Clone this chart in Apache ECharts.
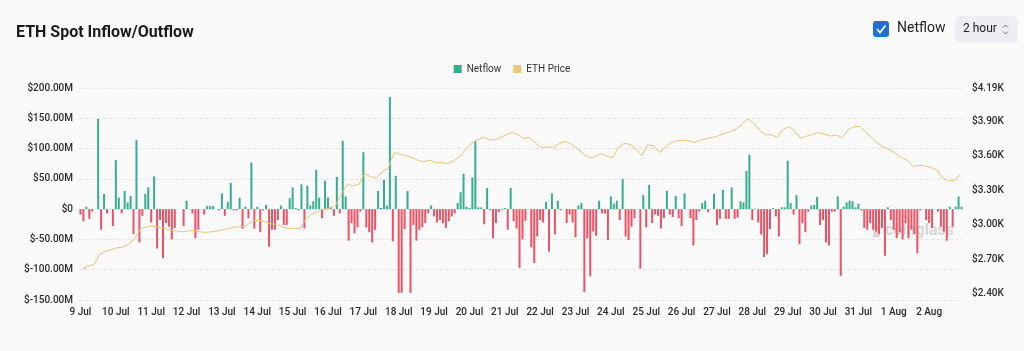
<!DOCTYPE html>
<html>
<head>
<meta charset="utf-8">
<script src="https://cdn.jsdelivr.net/npm/echarts@6/dist/echarts.min.js"></script>
<style>
html, body { margin: 0; padding: 0; background: #fafafa; }
#main { width: 1024px; height: 351px; }
</style>
</head>
<body>
<div id="main"></div>
<script>
// day labels, one per 12 two-hour slots
var dayLabels = ['9 Jul', '10 Jul', '11 Jul', '12 Jul', '13 Jul', '14 Jul', '15 Jul', '16 Jul', '17 Jul',
	'18 Jul', '19 Jul', '20 Jul', '21 Jul', '22 Jul', '23 Jul', '24 Jul', '25 Jul', '26 Jul', '27 Jul',
	'28 Jul', '29 Jul', '30 Jul', '31 Jul', '1 Aug', '2 Aug'];

// netflow per 2 hour slot, in $M
var netflow = [
	-9, -20, 4, -16, -4, 0, 149, -34, 25, -7, 0, -28,
	81, 19, -7, 30, 11, 22, -41, 114, -55, -11, 25, 36,
	-22, 54, -65, -18, -81, -23, -29, -50, -31, 0, 0, -28,
	14, 0, -7, -48, -34, 0, -9, 5, 5, 5, 0, -2,
	26, -11, 12, 43, -2, -2, 19, -32, 4, -15, 77, -32,
	4, -38, -2, 7, -62, -34, -34, -18, 6, -26, -26, 18,
	36, 2, -2, 41, -32, 39, 6, 13, 65, 19, -15, 47,
	19, 4, -11, 53, -7, 113, 21, -52, -23, -40, -30, -4,
	94, -30, -38, -55, -34, 30, 2, 48, 6, 185, -53, 55,
	-138, -138, -33, 30, -138, -26, -52, -34, -30, -23, -7, 6,
	-12, -22, -18, -23, -31, -20, -12, -7, 10, 28, 58, 4,
	2, 52, 113, 3, 3, -25, 35, -2, -48, -23, -5, -1,
	2, -34, 35, -20, -32, -97, -50, -19, 0, -63, -89, -45,
	-18, -22, 12, -70, 26, -42, 14, -2, 0, -23, -9, -22,
	-46, 6, 10, -137, -48, -111, -37, -44, 14, -7, -7, -51,
	21, 9, 14, -18, 50, -45, -51, -29, -15, 0, -98, 23,
	-30, 40, -23, -9, -11, -32, -15, 30, -9, -13, 22, -15,
	-28, 26, 0, -15, -60, -18, -4, 10, 14, -5, 0, 25,
	-26, -16, 32, -16, -16, 36, -16, -14, 13, 11, 63, 90,
	-18, 1, -22, -42, -79, -74, -33, 2, -12, -45, 3, 3,
	80, 10, -9, 23, -58, -23, -38, -4, 6, 7, 20, -26,
	-18, -55, -60, -4, -4, 21, -110, 4, 11, 14, 13, 3,
	9, -2, -31, -34, -23, -34, -37, -41, -31, -77, 3, -18,
	-34, -48, -38, -50, -23, -48, -34, -41, -73, -2, 0, -18,
	-23, -31, 0, -4, -29, -37, -52, 4, -29, 4, 21, 4
];

// ETH price per 4 hour slot, in $
var ethPrice = [
	2612, 2641, 2655, 2742, 2771, 2786, 2800, 2806, 2835, 2882,
	2969, 2981, 2990, 2975, 2969, 2952, 2946, 2940, 2946, 2952,
	2940, 2934, 2940, 2946, 2958, 2969, 2981, 2981, 2998, 3033,
	3039, 3027, 3010, 3004, 2981, 2969, 2969, 2969, 3048, 3091,
	3114, 3135, 3144, 3164, 3266, 3353, 3338, 3353, 3446, 3417,
	3411, 3463, 3498, 3629, 3614, 3600, 3585, 3562, 3550, 3562,
	3542, 3539, 3533, 3556, 3591, 3649, 3702, 3737, 3760, 3745,
	3737, 3760, 3783, 3804, 3783, 3751, 3760, 3708, 3673, 3678,
	3673, 3708, 3725, 3702, 3664, 3620, 3585, 3591, 3620, 3600,
	3580, 3673, 3708, 3702, 3658, 3600, 3696, 3687, 3629, 3678,
	3716, 3731, 3737, 3731, 3716, 3737, 3751, 3760, 3774, 3795,
	3812, 3832, 3876, 3920, 3885, 3824, 3783, 3783, 3760, 3832,
	3853, 3812, 3754, 3772, 3786, 3801, 3789, 3772, 3780, 3760,
	3827, 3853, 3856, 3806, 3760, 3710, 3678, 3655, 3623, 3585,
	3562, 3510, 3516, 3513, 3498, 3481, 3411, 3379, 3388, 3434
];

var priceTicks = [2400, 2700, 3000, 3300, 3600, 3900, 4190];

var GREEN = '#35ad8e';
var RED = '#ec5264';
var GOLD = '#ebc67c';
var FONT = 'Roboto';

var barSlots = [];
for (var i = 0; i < netflow.length; i++) barSlots.push(i);
var priceSlots = [];
for (var i = 0; i < ethPrice.length; i++) priceSlots.push(i);

var chart = echarts.init(document.getElementById('main'));

var option = {
	backgroundColor: '#fafafa',
	animation: false,
	title: {
		text: 'ETH Spot Inflow/Outflow',
		left: 11,
		top: 20,
		textStyle: { fontFamily: FONT, fontSize: 16, fontWeight: 'bold', color: '#1b1b1f' }
	},
	legend: {
		top: 59,
		left: 'center',
		icon: 'rect',
		itemWidth: 8,
		itemHeight: 8,
		itemGap: 12,
		textStyle: { fontFamily: FONT, fontSize: 10, color: '#333' },
		data: [
			{ name: 'Netflow', itemStyle: { color: GREEN } },
			{ name: 'ETH Price', itemStyle: { color: GOLD } }
		]
	},
	grid: { left: 79, right: 61, top: 88, bottom: 51 },
	xAxis: [
		{
			type: 'category',
			data: barSlots,
			boundaryGap: true,
			axisLine: { show: false },
			axisTick: { show: false },
			axisLabel: {
				interval: 11,
				margin: 7,
				fontFamily: FONT,
				fontSize: 10,
				fontWeight: 500,
				color: '#2b2b2b',
				formatter: function (v) { return dayLabels[Math.floor(v / 12)]; }
			}
		},
		{
			type: 'category',
			data: priceSlots,
			boundaryGap: true,
			show: false
		}
	],
	yAxis: [
		{
			type: 'value',
			min: -150,
			max: 200,
			interval: 50,
			axisLine: { show: false },
			axisTick: { show: false },
			splitLine: { lineStyle: { type: 'dashed', color: '#e6e6e6' } },
			axisLabel: {
				margin: 6,
				fontFamily: FONT,
				fontSize: 10,
				fontWeight: 500,
				color: '#2b2b2b',
				formatter: function (v) { return v === 0 ? '$0' : '$' + v.toFixed(2) + 'M'; }
			}
		},
		{
			type: 'value',
			min: 2346,
			max: 4190,
			position: 'right',
			axisLine: { show: false },
			axisTick: { show: false },
			splitLine: { show: false },
			axisLabel: {
				customValues: priceTicks,
				margin: 9,
				fontFamily: FONT,
				fontSize: 10,
				fontWeight: 500,
				color: '#2b2b2b',
				formatter: function (v) { return '$' + (v / 1000).toFixed(2) + 'K'; }
			}
		}
	],
	graphic: [
		// watermark
		{
			type: 'text', left: 872, top: 223, silent: true,
			style: { text: '▮ coinglass', fontFamily: FONT, fontSize: 16, fontWeight: 'bold', fill: 'rgba(150,150,150,0.35)' }
		},
		// checkbox
		{ type: 'rect', shape: { x: 873, y: 21, width: 16, height: 16, r: 3 }, style: { fill: '#1f6fd6' } },
		{ type: 'polyline', shape: { points: [[877, 29], [880, 32.5], [885.5, 25.5]] }, style: { stroke: '#fff', lineWidth: 1.8, fill: null } },
		{ type: 'text', left: 897, top: 21, style: { text: 'Netflow', fontFamily: FONT, fontSize: 14, fill: '#222' } },
		// interval selector
		{ type: 'rect', shape: { x: 955, y: 16, width: 63, height: 27, r: 5 }, style: { fill: '#eceef1' } },
		{ type: 'text', left: 963, top: 23, style: { text: '2 hour', fontFamily: FONT, fontSize: 12, fill: '#222' } },
		{ type: 'polyline', shape: { points: [[1003, 27.5], [1005.5, 25], [1008, 27.5]] }, style: { stroke: '#777', lineWidth: 1, fill: null } },
		{ type: 'polyline', shape: { points: [[1003, 31.5], [1005.5, 34], [1008, 31.5]] }, style: { stroke: '#777', lineWidth: 1, fill: null } }
	],
	series: [
		{
			name: 'Netflow',
			type: 'bar',
			xAxisIndex: 0,
			yAxisIndex: 0,
			barWidth: 2,
			data: netflow,
			itemStyle: {
				color: function (p) { return p.value >= 0 ? GREEN : RED; }
			}
		},
		{
			name: 'ETH Price',
			type: 'line',
			xAxisIndex: 1,
			yAxisIndex: 1,
			data: ethPrice,
			showSymbol: false,
			symbol: 'none',
			lineStyle: { color: GOLD, width: 1 },
			itemStyle: { color: GOLD },
			z: 3
		}
	]
};

chart.setOption(option);
</script>
</body>
</html>
